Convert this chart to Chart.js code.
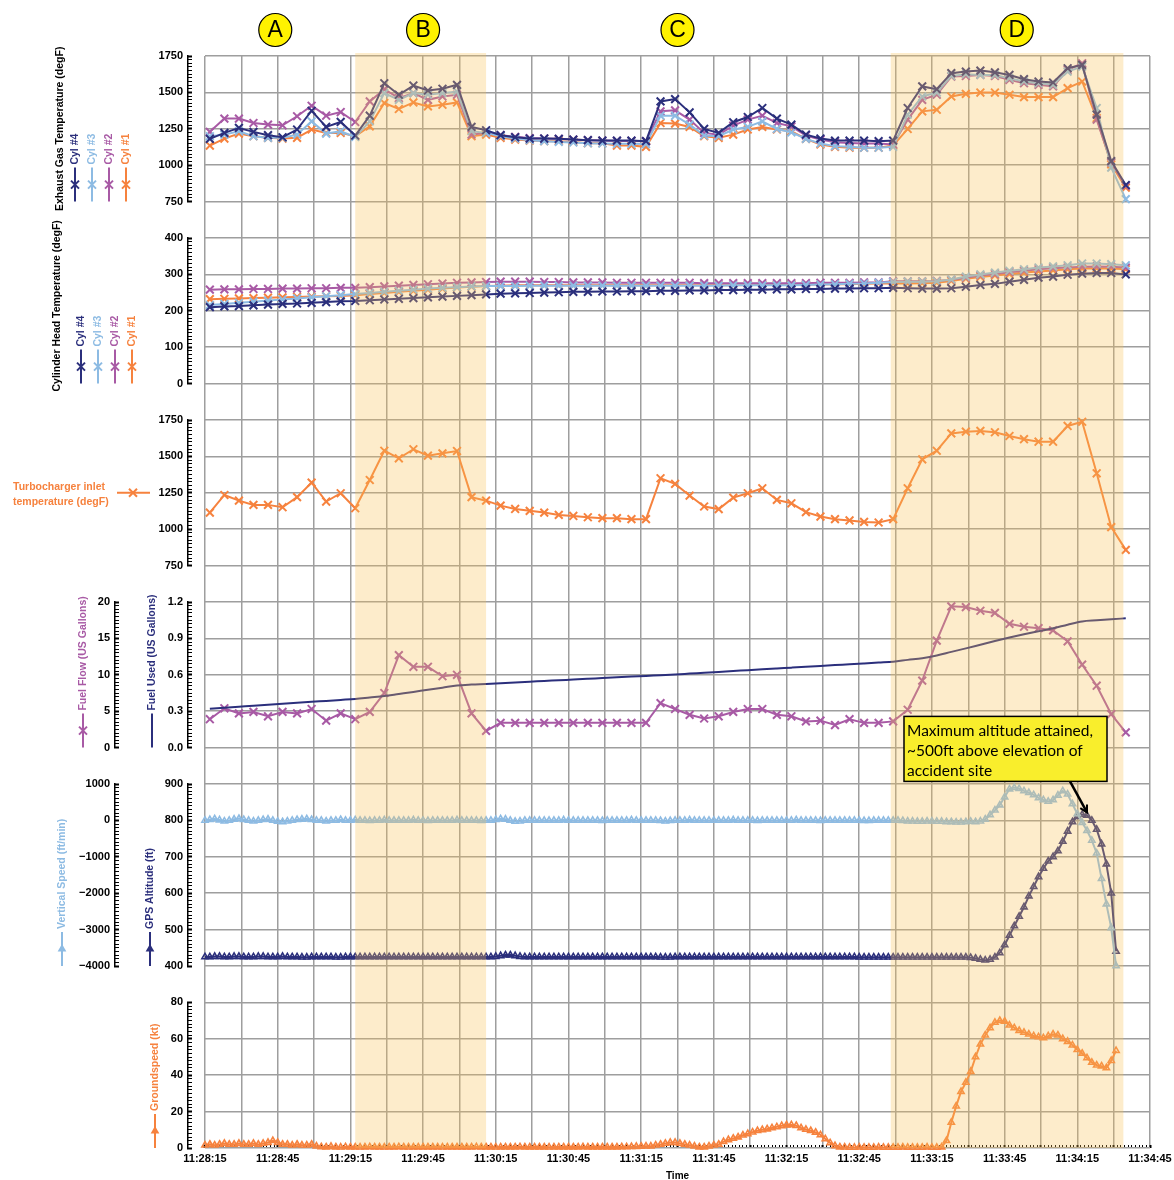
<!DOCTYPE html>
<html>
<head>
<meta charset="utf-8">
<script src="https://cdn.jsdelivr.net/npm/chart.js@4.4.1/dist/chart.umd.min.js"></script>
<style>
html, body { margin: 0; padding: 0; background: #fff; }
</style>
</head>
<body>
<canvas id="flightChart" width="1174" height="1180"></canvas>
<script>
// engine monitor samples (one every 6 s)
const engineTimes = [
    '11:28:17','11:28:23','11:28:29','11:28:35','11:28:41','11:28:47','11:28:53','11:28:59','11:29:05','11:29:11',
    '11:29:17','11:29:23','11:29:29','11:29:35','11:29:41','11:29:47','11:29:53','11:29:59','11:30:05','11:30:11',
    '11:30:17','11:30:23','11:30:29','11:30:35','11:30:41','11:30:47','11:30:53','11:30:59','11:31:05','11:31:11',
    '11:31:17','11:31:23','11:31:29','11:31:35','11:31:41','11:31:47','11:31:53','11:31:59','11:32:05','11:32:11',
    '11:32:17','11:32:23','11:32:29','11:32:35','11:32:41','11:32:47','11:32:53','11:32:59','11:33:05','11:33:11',
    '11:33:17','11:33:23','11:33:29','11:33:35','11:33:41','11:33:47','11:33:53','11:33:59','11:34:05','11:34:11',
    '11:34:17','11:34:23','11:34:29','11:34:35'
];

const egtCyl4 = [1181,1222,1256,1229,1206,1192,1245,1374,1263,1297, 1204,1340,1563,1484,1547,1513,1525,1552,1263,1240,
    1206,1192,1183,1183,1181,1176,1172,1169,1169,1169, 1165,1438,1454,1363,1249,1222,1295,1331,1393,1320,
    1279,1210,1183,1169,1169,1169,1165,1169,1393,1541, 1522,1632,1643,1650,1638,1620,1591,1575,1568,1666,
    1689,1347,1028,864];
const egtCyl3 = [1199,1210,1233,1199,1188,1188,1210,1301,1217,1233, 1194,1301,1495,1449,1495,1484,1495,1506,1233,1222,
    1199,1183,1172,1165,1160,1156,1151,1149,1147,1147, 1145,1340,1340,1279,1204,1199,1245,1263,1301,1249,
    1226,1181,1149,1131,1126,1120,1120,1126,1347,1472, 1499,1613,1625,1620,1620,1597,1575,1563,1552,1643,
    1677,1393,983,767];
const egtCyl2 = [1229,1320,1320,1290,1279,1274,1336,1408,1340,1365, 1297,1438,1522,1461,1495,1449,1472,1484,1210,1222,
    1206,1195,1186,1183,1181,1176,1172,1169,1167,1167, 1165,1370,1377,1313,1222,1210,1272,1313,1340,1290,
    1267,1204,1176,1158,1153,1149,1149,1142,1313,1449, 1484,1609,1613,1620,1613,1586,1563,1552,1541,1654,
    1700,1313,1017,858];
const egtCyl1 = [1135,1183,1217,1199,1188,1183,1188,1245,1222,1222, 1199,1267,1427,1386,1431,1404,1415,1431,1199,1210,
    1188,1176,1169,1165,1165,1160,1151,1151,1135,1135, 1126,1290,1286,1263,1199,1188,1210,1245,1263,1245,
    1233,1181,1142,1126,1120,1120,1120,1135,1249,1370, 1381,1472,1490,1499,1499,1484,1468,1468,1468,1529,
    1575,1324,1006,846];

const chtCyl4 = [210,212,213,215,217,219,220,222,224,226, 227,229,231,233,235,237,239,241,243,245,
    247,248,249,250,251,252,252,253,253,254, 254,255,255,256,256,257,257,258,258,259,
    259,260,260,261,261,262,262,263,262,261, 261,262,266,271,274,280,285,291,294,299,
    302,304,304,300];
const chtCyl3 = [216,219,222,225,228,231,234,237,240,243, 246,249,252,255,258,261,263,265,267,268,
    268,268,269,269,269,269,269,269,269,269, 269,269,269,269,269,269,270,270,270,270,
    270,271,272,273,274,275,277,279,280,280, 281,286,294,300,305,310,314,319,322,325,
    330,330,328,325];
const chtCyl2 = [258,259,259,260,260,261,261,262,262,263, 263,265,267,269,271,273,275,277,278,279,
    280,280,280,279,279,278,278,278,277,277, 277,277,277,277,276,276,276,276,276,276,
    276,276,277,277,277,278,278,281,281,281, 282,285,291,297,301,306,310,314,317,319,
    321,322,321,319];
const chtCyl1 = [232,233,234,235,236,237,238,239,240,241, 243,246,249,252,255,258,261,264,266,268,
    269,270,270,270,270,270,270,270,270,270, 270,270,270,270,270,270,270,271,271,271,
    271,272,272,273,273,274,275,275,275,276, 277,282,288,293,297,301,305,308,311,314,
    316,317,316,314];

const turboInlet = [1114,1235,1196,1167,1167,1151,1220,1320,1190,1247, 1144,1338,1539,1487,1549,1505,1521,1537,1220,1196,
    1162,1139,1126,1114,1098,1091,1082,1076,1076,1069, 1069,1350,1311,1231,1156,1138,1217,1247,1281,1201,
    1178,1117,1087,1069,1060,1050,1046,1069,1281,1480, 1539,1658,1670,1675,1666,1640,1618,1601,1601,1709,
    1738,1384,1014,858];

const fuelFlow = [3.9,5.4,4.7,4.9,4.3,4.9,4.7,5.3,3.7,4.7, 3.9,4.9,7.5,12.7,11.1,11.1,9.8,10.0,4.7,2.3,
    3.4,3.4,3.4,3.4,3.4,3.4,3.4,3.4,3.4,3.4, 3.4,6.1,5.3,4.5,4.0,4.3,4.9,5.3,5.3,4.5,
    4.3,3.6,3.7,3.1,3.9,3.4,3.4,3.6,5.2,9.2, 14.7,19.4,19.3,18.8,18.5,17.0,16.6,16.4,16.1,14.6,
    11.4,8.5,4.6,2.1];
const fuelUsed = [0.321,0.329,0.337,0.345,0.353,0.361,0.369,0.377,0.385,0.393, 0.401,0.413,0.425,0.442,0.459,0.477,0.494,0.512,0.520,0.525,
    0.531,0.537,0.543,0.549,0.555,0.561,0.567,0.573,0.579,0.585, 0.591,0.597,0.603,0.610,0.617,0.624,0.631,0.638,0.645,0.652,
    0.659,0.666,0.673,0.680,0.687,0.694,0.701,0.708,0.723,0.737, 0.759,0.789,0.818,0.848,0.878,0.907,0.934,0.959,0.983,1.013,
    1.040,1.049,1.057,1.066];

// GPS samples (one every 2 s from gpsStart)
const gpsStart = '11:28:15';
const gpsStep = 2;
const gpsAltitude = [
    425,425,426,426,425,425,426,426,425,425, 425,426,426,425,425,425,426,425,425,425,
    424,424,425,425,425,425,425,424,424,425, 425,425,425,425,425,425,425,425,425,425,
    425,425,425,425,425,425,425,425,425,425, 425,425,425,425,425,425,425,425,425,425,
    426,428,430,430,428,426,425,425,425,425, 425,425,425,425,425,425,425,425,425,425,
    425,425,425,425,425,425,425,425,425,425, 425,425,425,425,424,424,424,425,425,425,
    425,425,425,425,425,425,425,425,425,425, 425,425,425,425,425,425,425,425,425,425,
    425,425,425,425,425,425,425,425,425,425, 425,425,425,425,425,424,424,424,424,424,
    424,424,424,424,424,424,424,424,424,424, 424,424,424,424,424,424,424,424,423,421,
    418,416,418,424,436,458,484,510,536,562, 592,618,645,668,688,700,716,742,770,796,
    810,816,814,800,775,735,680,600,440
];
const verticalSpeed = [
    0,20,40,10,-20,0,30,50,20,0, -20,0,20,30,0,-30,-40,-20,0,20,
    30,40,20,0,0,-20,0,0,20,0, 0,10,0,0,-10,0,0,10,0,0,
    0,0,0,10,0,0,-10,0,0,0, 0,0,10,0,0,0,0,-10,0,0,
    20,40,30,0,-30,-20,0,0,0,0, 0,0,0,0,10,0,0,0,0,0,
    0,0,-10,0,0,0,0,0,10,0, 0,0,0,0,-10,-20,-10,0,0,0,
    10,0,0,0,0,0,0,0,0,10, 0,0,0,0,-10,0,0,0,0,0,
    0,0,10,0,0,0,0,-10,0,0, 0,0,0,0,0,0,-10,-10,0,0,
    0,0,0,0,-10,-20,-20,-30,-30,-20, -20,-30,-30,-40,-40,-50,-50,-40,-30,-40,
    -20,30,150,280,420,640,860,900,870,810, 760,700,620,560,520,560,690,810,720,450,
    180,-60,-280,-550,-900,-1600,-2300,-2950,-4000
];
const groundspeed = [
    1.5,2,1.5,2,2.5,2,2,2.5,2,2, 2.5,2,2.5,3,4,3,2,2,1.5,2,
    1.5,1.5,2,1,0.6,0.5,0.8,0.5,0.4,0.6, 0.5,0.5,0.4,0.5,0.6,0.5,0.5,0.4,0.5,0.5,
    0.6,0.5,0.4,0.5,0.5,0.5,0.5,0.5,0.5,0.4, 0.5,0.5,0.5,0.5,0.5,0.5,0.6,0.5,0.5,0.5,
    0.4,0.5,0.5,0.5,0.5,0.6,0.5,0.5,0.5,0.5, 0.5,0.4,0.5,0.5,0.5,0.5,0.5,0.5,0.6,0.5,
    0.5,0.5,0.5,0.5,0.5,0.5,0.6,0.6,0.7,0.8, 0.9,1.0,1,1.5,2,2.5,3,3,2.5,2,
    1.5,1,0.5,0.5,1,1.5,2,3.5,4.5,5.3, 6,7,7.8,8.7,9.5,10,10.4,11,11.6,12.2,
    12.6,12.7,12.3,11,10.2,9.5,8.6,7.2,5,2.8, 1.2,0.5,0.4,0.3,0.3,0.4,0.3,0.3,0.3,0.4,
    0.3,0.3,0.3,0.3,0.4,0.3,0.3,0.3,0.3,0.4, 0.3,0.3,0.5,4,14,23,31,36,42,50,
    57,62,66,69,70,69.6,67.5,66,64.5,63.5, 62.5,61.5,61,60.5,61.5,62.5,62,60,58.5,56.5,
    54,52,49.5,47,45.5,45,44,48,53.5
];

const timeTicks = ['11:28:15','11:28:45','11:29:15','11:29:45','11:30:15','11:30:45','11:31:15',
    '11:31:45','11:32:15','11:32:45','11:33:15','11:33:45','11:34:15','11:34:45'];
const shadedSpans = [['11:29:17', '11:30:11'], ['11:32:58', '11:34:34']];
const phaseNames = ['A', 'B', 'C', 'D'];
const phaseTimes = ['11:28:44', '11:29:45', '11:31:30', '11:33:50'];
const noteLines = ['Maximum altitude attained,', '~500ft above elevation of', 'accident site'];
const noteTarget = ['11:34:19', 822];

const NAVY = '#2b2f7c';
const LIGHT = '#8dbbe3';
const PURPLE = '#a85aa5';
const ORANGE = '#f6823e';
const GRID = '#9e9e9e';

function toSec(t) {
    const p = t.split(':').map(Number);
    return p[0] * 3600 + p[1] * 60 + p[2];
}
function fmtTime(s) {
    const h = Math.floor(s / 3600), m = Math.floor(s / 60) % 60, x = s % 60;
    return h + ':' + String(m).padStart(2, '0') + ':' + String(x).padStart(2, '0');
}

const engX = engineTimes.map(toSec);
const gpsX = gpsAltitude.map((v, i) => toSec(gpsStart) + i * gpsStep);
const pts = (xs, ys) => ys.map((v, i) => ({ x: xs[i], y: v }));
const labelledTicks = new Set(timeTicks.map(toSec));
const tMin = toSec(timeTicks[0]);
const tMax = toSec(timeTicks[timeTicks.length - 1]);

function engineSet(label, values, color, axis) {
    return {
        label, data: pts(engX, values), yAxisID: axis, borderColor: color, backgroundColor: color,
        borderWidth: 2, pointStyle: 'crossRot', pointRadius: 5.5, pointBorderWidth: 2, clip: false
    };
}
function gpsSet(label, values, color, axis) {
    return {
        label, data: pts(gpsX, values), yAxisID: axis, borderColor: color, backgroundColor: 'rgba(255,255,255,0)',
        borderWidth: 2, pointStyle: 'triangle', pointRadius: 3.6, pointBorderWidth: 1.6, clip: false
    };
}

// data axis with a comb of minor ticks pointing into the plot
function dataAxis(stack, weight, stackWeight, min, max, major, minor, fmt) {
    const isMajor = v => Math.abs(v / major - Math.round(v / major)) < 1e-6;
    return {
        type: 'linear', position: 'left', stack, weight, stackWeight, min, max,
        afterFit: s => { s.width = stack === 'outer' ? 115 : 73; },
        border: { display: true, color: '#000', width: 1.5 },
        grid: {
            drawOnChartArea: false, drawTicks: true, tickLength: -4, tickColor: '#000',
            tickWidth: ctx => (isMajor(ctx.tick.value) ? 2 : 1)
        },
        ticks: {
            stepSize: minor, autoSkip: false, padding: 9, color: '#000',
            font: { size: 11, weight: 'bold' },
            callback: v => (isMajor(v) ? fmt(v) : '')
        }
    };
}
function spacer(stack, weight, stackWeight) {
    return { type: 'linear', position: 'left', display: false, stack, weight, stackWeight };
}
const plain = v => (v < 0 ? '\u2212' + (-v) : String(v));
const oneDec = v => v.toFixed(1);

function drawMark(ctx, kind, x, y, color) {
    ctx.save();
    ctx.strokeStyle = color;
    ctx.fillStyle = color;
    ctx.lineWidth = 2;
    ctx.beginPath();
    if (kind === 'cross') {
        const r = 4;
        ctx.moveTo(x - r, y - r); ctx.lineTo(x + r, y + r);
        ctx.moveTo(x + r, y - r); ctx.lineTo(x - r, y + r);
        ctx.stroke();
    } else {
        const r = 5;
        ctx.moveTo(x, y - r); ctx.lineTo(x + r * 0.87, y + r * 0.5); ctx.lineTo(x - r * 0.87, y + r * 0.5);
        ctx.closePath();
        ctx.fill();
    }
    ctx.restore();
}
function vLegend(ctx, x, yBottom, color, mark, text) {
    ctx.save();
    ctx.strokeStyle = color;
    ctx.lineWidth = 2;
    ctx.beginPath(); ctx.moveTo(x, yBottom); ctx.lineTo(x, yBottom - 34); ctx.stroke();
    if (mark) drawMark(ctx, mark, x, yBottom - 17, color);
    ctx.translate(x, yBottom - 37);
    ctx.rotate(-Math.PI / 2);
    ctx.fillStyle = color;
    ctx.font = 'bold 10.5px "Liberation Sans"';
    ctx.textAlign = 'left';
    ctx.textBaseline = 'middle';
    ctx.fillText(text, 0, 0);
    ctx.restore();
}
function vTitle(ctx, x, yMid, text) {
    ctx.save();
    ctx.translate(x, yMid);
    ctx.rotate(-Math.PI / 2);
    ctx.fillStyle = '#000';
    ctx.font = 'bold 10.5px "Liberation Sans"';
    ctx.textAlign = 'center';
    ctx.textBaseline = 'middle';
    ctx.fillText(text, 0, 0);
    ctx.restore();
}

const shadePlugin = {
    id: 'shade',
    afterDatasetsDraw(chart) {
        const { ctx, chartArea, scales: { x } } = chart;
        ctx.save();
        ctx.fillStyle = 'rgba(248, 193, 83, 0.3)';
        shadedSpans.forEach(([a, b]) => {
            const x0 = x.getPixelForValue(toSec(a));
            const x1 = x.getPixelForValue(toSec(b));
            ctx.fillRect(x0, chartArea.top - 3, x1 - x0, chartArea.bottom - chartArea.top + 3);
        });
        ctx.restore();
    }
};

const sidePlugin = {
    id: 'sideTitles',
    afterDraw(chart) {
        const ctx = chart.ctx;
        const s = chart.scales;
        const cyl = [['Cyl #4', NAVY], ['Cyl #3', LIGHT], ['Cyl #2', PURPLE], ['Cyl #1', ORANGE]];

        vTitle(ctx, 60, (s.yEgt.top + s.yEgt.bottom) / 2, 'Exhaust Gas Temperature (degF)');
        cyl.forEach(([t, c], i) => vLegend(ctx, 75 + i * 17, s.yEgt.bottom, c, 'cross', t));

        vTitle(ctx, 57, (s.yCht.top + s.yCht.bottom) / 2 - 5, 'Cylinder Head Temperature (degF)');
        cyl.forEach(([t, c], i) => vLegend(ctx, 81 + i * 17, s.yCht.bottom, c, 'cross', t));

        const ty = s.yTit.getPixelForValue(1250);
        ctx.save();
        ctx.fillStyle = ORANGE;
        ctx.font = 'bold 10.5px "Liberation Sans"';
        ctx.textBaseline = 'middle';
        ctx.fillText('Turbocharger inlet', 13, ty - 6);
        ctx.fillText('temperature (degF)', 13, ty + 9);
        ctx.strokeStyle = ORANGE;
        ctx.lineWidth = 2;
        ctx.beginPath(); ctx.moveTo(117, ty); ctx.lineTo(150, ty); ctx.stroke();
        ctx.restore();
        drawMark(ctx, 'cross', 133, ty, ORANGE);

        vLegend(ctx, s.yFlow.right - 32, s.yFlow.bottom, PURPLE, 'cross', 'Fuel Flow (US Gallons)');
        vLegend(ctx, s.yUsed.right - 36, s.yUsed.bottom, NAVY, null, 'Fuel Used (US Gallons)');
        vLegend(ctx, s.yVs.right - 53, s.yVs.bottom, LIGHT, 'tri', 'Vertical Speed (ft/min)');
        vLegend(ctx, s.yAlt.right - 38, s.yAlt.bottom, NAVY, 'tri', 'GPS Altitude (ft)');
        vLegend(ctx, s.yGs.right - 33, s.yGs.bottom, ORANGE, 'tri', 'Groundspeed (kt)');

        // phase markers above the plot
        ctx.save();
        phaseNames.forEach((n, i) => {
            const px = s.x.getPixelForValue(toSec(phaseTimes[i]));
            ctx.beginPath();
            ctx.arc(px, 30, 16.5, 0, Math.PI * 2);
            ctx.fillStyle = '#fff200';
            ctx.fill();
            ctx.strokeStyle = '#000';
            ctx.lineWidth = 1.2;
            ctx.stroke();
            ctx.fillStyle = '#000';
            ctx.font = '23px "Liberation Sans"';
            ctx.textAlign = 'center';
            ctx.textBaseline = 'middle';
            ctx.fillText(n, px, 31);
        });
        ctx.restore();

        // callout for the altitude peak
        const tipX = s.x.getPixelForValue(toSec(noteTarget[0]));
        const tipY = s.yAlt.getPixelForValue(noteTarget[1]);
        const bx = tipX - 183, by = tipY - 96;
        ctx.save();
        ctx.fillStyle = '#f9ee2c';
        ctx.fillRect(bx, by, 203, 65);
        ctx.strokeStyle = '#000';
        ctx.lineWidth = 1.5;
        ctx.strokeRect(bx, by, 203, 65);
        ctx.fillStyle = '#000';
        ctx.font = '15.5px Lato';
        ctx.textBaseline = 'middle';
        noteLines.forEach((l, i) => ctx.fillText(l, bx + 3, by + 15 + i * 20));
        const ax = tipX - 17, ay = by + 65;
        ctx.lineWidth = 2.5;
        ctx.beginPath(); ctx.moveTo(ax, ay); ctx.lineTo(tipX, tipY); ctx.stroke();
        const ang = Math.atan2(tipY - ay, tipX - ax);
        ctx.lineWidth = 2;
        ctx.beginPath();
        ctx.moveTo(tipX - 8 * Math.cos(ang - 0.5), tipY - 8 * Math.sin(ang - 0.5));
        ctx.lineTo(tipX, tipY);
        ctx.lineTo(tipX - 8 * Math.cos(ang + 0.5), tipY - 8 * Math.sin(ang + 0.5));
        ctx.stroke();
        ctx.restore();
    }
};

Chart.defaults.font.family = '"Liberation Sans", Arial, sans-serif';

const ctx = document.getElementById('flightChart').getContext('2d');
const flightChart = new Chart(ctx, {
    type: 'line',
    data: {
        datasets: [
            engineSet('EGT Cyl #4', egtCyl4, NAVY, 'yEgt'),
            engineSet('EGT Cyl #3', egtCyl3, LIGHT, 'yEgt'),
            engineSet('EGT Cyl #2', egtCyl2, PURPLE, 'yEgt'),
            engineSet('EGT Cyl #1', egtCyl1, ORANGE, 'yEgt'),
            engineSet('CHT Cyl #4', chtCyl4, NAVY, 'yCht'),
            engineSet('CHT Cyl #3', chtCyl3, LIGHT, 'yCht'),
            engineSet('CHT Cyl #2', chtCyl2, PURPLE, 'yCht'),
            engineSet('CHT Cyl #1', chtCyl1, ORANGE, 'yCht'),
            engineSet('Turbocharger inlet temperature', turboInlet, ORANGE, 'yTit'),
            {
                label: 'Fuel Used', data: pts(engX, fuelUsed), yAxisID: 'yUsed', borderColor: NAVY,
                borderWidth: 2, pointRadius: 0, cubicInterpolationMode: 'monotone', clip: false
            },
            engineSet('Fuel Flow', fuelFlow, PURPLE, 'yFlow'),
            gpsSet('Vertical Speed', verticalSpeed, LIGHT, 'yVs'),
            gpsSet('GPS Altitude', gpsAltitude, NAVY, 'yAlt'),
            gpsSet('Groundspeed', groundspeed, ORANGE, 'yGs')
        ]
    },
    options: {
        responsive: false,
        animation: false,
        events: [],
        layout: { padding: { left: 0, top: 56, right: 24, bottom: 0 } },
        plugins: { legend: { display: false }, tooltip: { enabled: false } },
        scales: {
            x: {
                type: 'linear', position: 'bottom', weight: 1, min: tMin, max: tMax,
                afterFit: s => { s.height = 32; },
                grid: { color: GRID, lineWidth: 1.5, drawTicks: true, tickLength: 4, tickColor: 'rgba(0,0,0,0)' },
                border: { display: false },
                ticks: {
                    stepSize: 15, autoSkip: false, maxRotation: 0, padding: 0, color: '#000',
                    font: { size: 11, weight: 'bold' },
                    callback: v => (labelledTicks.has(v) ? fmtTime(v) : '')
                },
                title: { display: true, text: 'Time', color: '#000', font: { size: 10, weight: 'bold' }, padding: -2 }
            },
            xComb: {
                type: 'linear', position: 'bottom', weight: 0, min: tMin, max: tMax,
                afterFit: s => { s.height = 0; },
                grid: {
                    drawOnChartArea: false, drawTicks: true, tickLength: -3, tickColor: '#000',
                    tickWidth: ctx => ((ctx.tick.value - tMin) % 15 === 0 ? 2 : 1)
                },
                border: { display: false },
                ticks: { display: false, stepSize: 1.5, autoSkip: false, padding: 0 }
            },
            yGrid: {
                type: 'linear', position: 'left', weight: 0, min: 0, max: 30,
                afterFit: s => { s.width = 17; },
                ticks: { display: false, stepSize: 1 },
                grid: { color: GRID, lineWidth: 1.5, drawTicks: false },
                border: { display: false }
            },
            yEgt: dataAxis('inner', 21, 4, 750, 1750, 250, 25, plain),
            yGap1: spacer('inner', 20, 1),
            yCht: dataAxis('inner', 19, 4, 0, 400, 100, 10, plain),
            yGap2: spacer('inner', 18, 1),
            yTit: dataAxis('inner', 17, 4, 750, 1750, 250, 25, plain),
            yGap3: spacer('inner', 16, 1),
            yUsed: dataAxis('inner', 15, 4, 0, 1.2, 0.3, 0.03, oneDec),
            yGap4: spacer('inner', 14, 1),
            yAlt: dataAxis('inner', 13, 5, 400, 900, 100, 10, plain),
            yGap5: spacer('inner', 12, 1),
            yGs: dataAxis('inner', 11, 4, 0, 80, 20, 2, plain),
            yPad1: spacer('outer', 34, 15),
            yFlow: dataAxis('outer', 33, 4, 0, 20, 5, 0.5, plain),
            yGap6: spacer('outer', 32, 1),
            yVs: dataAxis('outer', 31, 5, -4000, 1000, 1000, 100, plain),
            yPad2: spacer('outer', 30, 5)
        }
    },
    plugins: [shadePlugin, sidePlugin]
});
</script>
</body>
</html>
